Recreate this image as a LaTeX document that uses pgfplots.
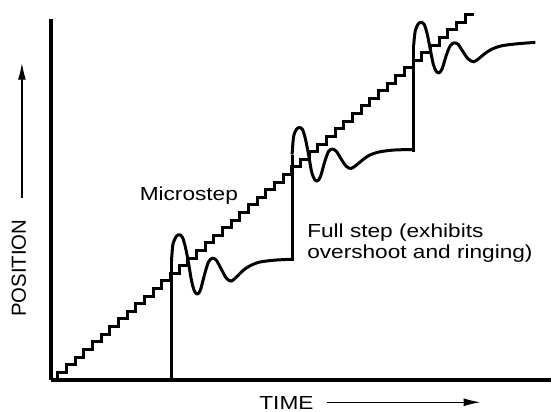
\documentclass[border=0pt]{standalone}
\usepackage{fontspec}
\setmainfont{Liberation Sans}
\newfontfamily\stretchfont[FakeStretch=1.2]{Liberation Sans}
\usepackage{pgfplots}
\pgfplotsset{compat=1.18}
\usetikzlibrary{arrows.meta}
\begin{document}
\begin{tikzpicture}
\begin{axis}[
  width=502bp, height=362bp, scale only axis,
  xmin=0, xmax=502, ymin=0, ymax=362,
  axis x line=bottom, axis y line=left,
  axis line style={line width=3.4bp, -},
  xtick=\empty, ytick=\empty,
  clip=false,
]
\path (axis cs:-51,-32) rectangle (axis cs:502,381);
% microstep staircase
\addplot[black, line width=3bp, const plot mark right, line join=miter] coordinates {
(7,0) (15.69,7.63) (24.38,15.26) (33.07,22.89) (41.76,30.52) (50.45,38.15)
(59.14,45.78) (67.83,53.41) (76.52,61.04) (85.21,68.67) (93.9,76.3)
(102.59,83.93) (111.28,91.56) (119.97,99.19) (128.66,106.82) (137.35,114.45)
(146.04,122.08) (154.73,129.71) (163.42,137.34) (172.11,144.97) (180.8,152.6)
(189.49,160.23) (198.18,167.86) (206.87,175.49) (215.56,183.12) (224.25,190.75)
(232.94,198.38) (241.63,206.01) (250.32,213.64) (259.01,221.27) (267.7,228.9)
(276.39,236.53) (285.08,244.16) (293.77,251.79) (302.46,259.42) (311.15,267.05)
(319.84,274.68) (328.53,282.31) (337.22,289.94) (345.91,297.57) (354.6,305.2)
(363.29,312.83) (371.98,320.46) (380.67,328.09) (389.36,335.72) (398.05,343.35)
(406.74,350.98) (415.43,358.61) (424.12,366.24)
};
% full step: verticals
\addplot[black, line width=3bp] coordinates {(121,0) (121,119)};
\addplot[black, line width=3bp] coordinates {(242,119) (242,226)};
\addplot[black, line width=3bp] coordinates {(364,229) (364,336)};
% full step: ringing
\addplot[black, line width=3bp, smooth, tension=0.5, line join=round] coordinates {
(121,119) (122.5,136) (126,144) (129,145.5) (132,143) (135,133) (138,118) (141,100)
(144,89) (147,86) (150,90) (154,105) (158,118) (162,122) (166,120) (171,111)
(176,102) (181,99) (186,103) (192,109) (199,114) (209,118) (224,120) (242,121)
};
\addplot[black, line width=3bp, smooth, tension=0.5, line join=round] coordinates {
(242,226) (243.5,244) (246.5,251.5) (249.5,253) (252.5,251) (255.5,241) (258.5,226)
(261.5,209) (264.5,201) (267.5,199.5) (270.5,204) (274.5,218) (278.5,229) (282.5,231.5)
(286.5,229) (291.5,221) (296.5,214) (301,212) (306,215) (312,220) (319,225)
(329,228.5) (344,230.5) (364,231)
};
\addplot[black, line width=3bp, smooth, tension=0.5, line join=round] coordinates {
(364,336) (365.5,350) (368.5,357) (371.5,358.5) (374.5,356.5) (377.5,347) (380.5,332)
(383.5,317) (386.5,309.5) (389.5,308) (392.5,312) (396.5,325) (400.5,335) (404.5,338)
(408.5,336.5) (413.5,329) (418.5,322) (424,319) (429,322) (435,327) (442,331.5)
(452,335) (467,337) (486,338.5)
};
% labels
\node[anchor=base west, inner sep=0pt, font=\stretchfont\fontsize{19}{22}\selectfont] at (axis cs:89,180) {Microstep};
\node[anchor=base west, inner sep=0pt, font=\stretchfont\fontsize{19}{22}\selectfont] at (axis cs:257,143) {Full step (exhibits};
\node[anchor=base west, inner sep=0pt, font=\stretchfont\fontsize{19}{22}\selectfont] at (axis cs:257,122) {overshoot and ringing)};
\node[anchor=base west, inner sep=0pt, font=\stretchfont\fontsize{19}{22}\selectfont] at (axis cs:209,-29.3) {TIME};
\draw[line width=1.4bp, -{Latex[length=17bp, width=8bp]}] (axis cs:277,-22.5) -- (axis cs:431,-22.5);
\node[anchor=base west, inner sep=0pt, rotate=90, font=\fontsize{20.5}{22}\selectfont] at (axis cs:-25,63) {POSITION};
\draw[line width=1.4bp, -{Latex[length=17bp, width=8bp]}] (axis cs:-29,182) -- (axis cs:-29,318);
\end{axis}
\end{tikzpicture}
\end{document}
